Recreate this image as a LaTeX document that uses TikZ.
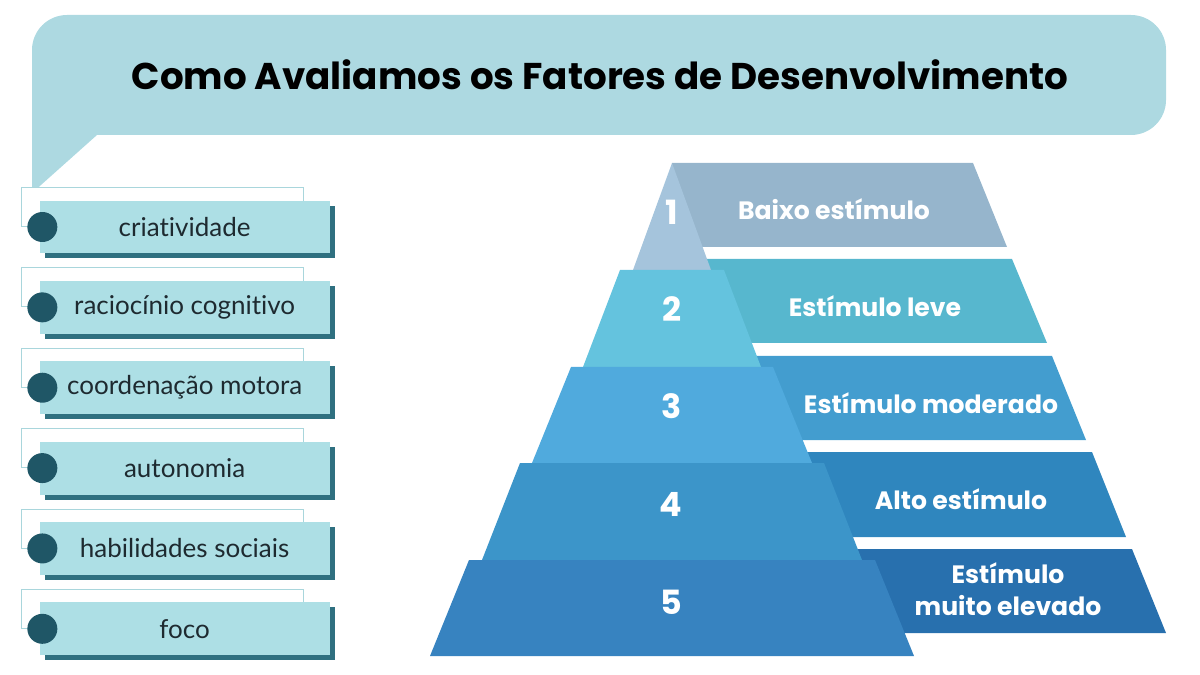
\documentclass[tikz,border=0pt]{standalone}
\usepackage{fontspec}
\setmainfont{Lato}[Ligatures=NoCommon]
\newfontfamily\spartan{Poppins}
\usepackage{xcolor}
\usepackage{tikz}
\usetikzlibrary{positioning,shadows}

\definecolor{bubblefill}{HTML}{ADD9E1}
\definecolor{itemfill}{HTML}{ADDFE5}
\definecolor{itemshade}{HTML}{2F7080}
\definecolor{itemtext}{HTML}{1E2A30}
\definecolor{dotfill}{HTML}{1F5666}
\definecolor{framestroke}{HTML}{A9D6DC}
\definecolor{tierA}{HTML}{A5C4DC}
\definecolor{tierB}{HTML}{64C3DE}
\definecolor{tierC}{HTML}{50AADD}
\definecolor{tierD}{HTML}{3C95C9}
\definecolor{tierE}{HTML}{3783C0}
\definecolor{bandA}{HTML}{96B5CC}
\definecolor{bandB}{HTML}{57B7CE}
\definecolor{bandC}{HTML}{439DCF}
\definecolor{bandD}{HTML}{2F86BE}
\definecolor{bandE}{HTML}{2870AE}

\begin{document}
\begin{tikzpicture}[
  x=0.02cm, y=-0.02cm,
  itembox/.style={fill=itemfill, minimum width=5.8cm, minimum height=1.06cm, text=itemtext,
    font=\fontsize{14.8}{17}\selectfont,
    drop shadow={shadow xshift=0.1cm, shadow yshift=-0.1cm, fill=itemshade, opacity=1}},
  itemframe/.style={draw=framestroke, line width=0.5pt, fill=white, minimum width=5.64cm, minimum height=0.78cm, inner sep=0pt},
  itemdot/.style={circle, fill=dotfill, minimum size=0.6cm, inner sep=0pt},
  bandlabel/.style={text=white, align=center, font=\spartan\bfseries\fontsize{14.3}{18}\selectfont},
  tiernum/.style={text=white, font=\spartan\bfseries\fontsize{19}{22}\selectfont}
]
\useasboundingbox (0,0) rectangle (1200,675);

\fill[bubblefill] (32,193) [rounded corners=0.7cm] -- (32,15) -- (1166,15) -- (1166,135) [sharp corners] -- (97,135) -- cycle;
\node[font=\spartan\bfseries\fontsize{21.2}{25}\selectfont] (title) at (600,75) {Como Avaliamos os Fatores de Desenvolvimento};

\node[itemframe, anchor=south east] (f1) at (304,227) {};
\node[itemframe, below=0.81cm of f1] (f2) {};
\node[itemframe, below=0.81cm of f2] (f3) {};
\node[itemframe, below=0.81cm of f3] (f4) {};
\node[itemframe, below=0.81cm of f4] (f5) {};
\node[itemframe, below=0.81cm of f5] (f6) {};

\node[itembox, anchor=east] (crit) at ([xshift=0.52cm]f1.south east) {criatividade};
\node[itembox, anchor=east] (racio) at ([xshift=0.52cm]f2.south east) {raciocínio cognitivo};
\node[itembox, anchor=east] (coord) at ([xshift=0.52cm]f3.south east) {coordenação motora};
\node[itembox, anchor=east] (auto) at ([xshift=0.52cm]f4.south east) {autonomia};
\node[itembox, anchor=east] (social) at ([xshift=0.52cm]f5.south east) {habilidades sociais};
\node[itembox, anchor=east] (foco) at ([xshift=0.52cm]f6.south east) {foco};

\node[itemdot] at ([xshift=0.06cm]crit.west) {};
\node[itemdot] at ([xshift=0.06cm]racio.west) {};
\node[itemdot] at ([xshift=0.06cm]coord.west) {};
\node[itemdot] at ([xshift=0.06cm]auto.west) {};
\node[itemdot] at ([xshift=0.06cm]social.west) {};
\node[itemdot] at ([xshift=0.06cm]foco.west) {};

% bands behind the pyramid
\fill[bandA] (672,163) -- (973,163) -- (1007,247) -- (672,247) -- cycle;
\fill[bandB] (672,259) -- (1012,259) -- (1047,343) -- (672,343) -- cycle;
\fill[bandC] (672,356) -- (1052,356) -- (1086,440) -- (672,440) -- cycle;
\fill[bandD] (672,452) -- (1092,452) -- (1126,537) -- (672,537) -- cycle;
\fill[bandE] (672,549) -- (1132,549) -- (1166,633) -- (672,633) -- cycle;

% pyramid tiers
\fill[tierA] (672,163) -- (711,270) -- (633,270) -- cycle;
\fill[tierB] (620,270) -- (724,270) -- (761,367) -- (583,367) -- cycle;
\fill[tierC] (571,367) -- (773,367) -- (812,463) -- (532,463) -- cycle;
\fill[tierD] (520,463) -- (824,463) -- (862,560) -- (482,560) -- cycle;
\fill[tierE] (469,560) -- (875,560) -- (914,656) -- (430,656) -- cycle;

\node[tiernum] (n1) at (672,212) {1};
\node[tiernum] (n2) at (672,309) {2};
\node[tiernum] (n3) at (672,406) {3};
\node[tiernum] (n4) at (671,504) {4};
\node[tiernum] (n5) at (671,602) {5};

\node[bandlabel] (baixo) at (834,209) {Baixo estímulo};
\node[bandlabel] (leve) at (875,306) {Estímulo leve};
\node[bandlabel] (moder) at (931,403) {Estímulo moderado};
\node[bandlabel] (alto) at (961,499) {Alto estímulo};
\node[bandlabel] (elev) at (1008,589) {Estímulo\\muito elevado};
\end{tikzpicture}
\end{document}
